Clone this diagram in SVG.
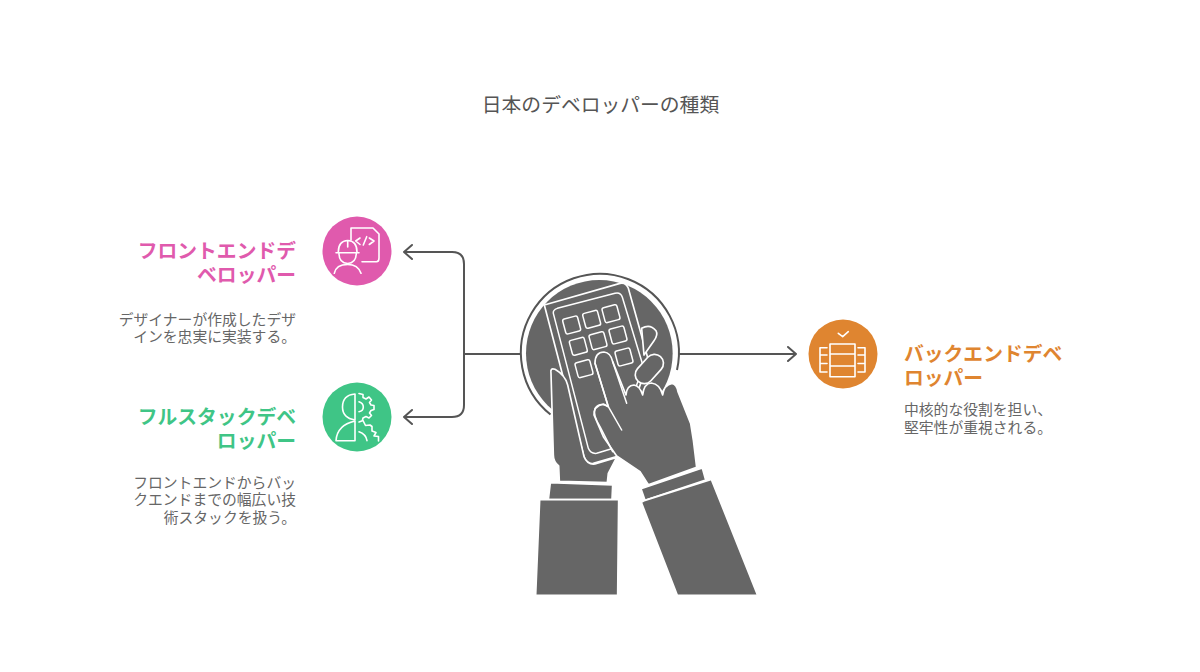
<svg xmlns="http://www.w3.org/2000/svg" width="1200" height="672" viewBox="0 0 1200 672">
<style>
text{font-family:"Noto Sans CJK JP","Noto Sans",sans-serif}
.title{font-size:19.800px;fill:#555;text-anchor:middle}
.h{font-size:19.800px;font-weight:700}
.d{font-size:14.800px;fill:#666}
.r{text-anchor:end}
.conn{fill:none;stroke:#555;stroke-width:2;stroke-linecap:round;stroke-linejoin:round}
.ic{fill:none;stroke:#fff;stroke-width:1.600;stroke-linecap:round;stroke-linejoin:round}
.g{fill:#666;stroke:#fff;stroke-width:5;stroke-linejoin:round}
.w{fill:none;stroke:#fff;stroke-width:4.500;stroke-linejoin:round;stroke-linecap:round}
</style>
<rect width="1200" height="672" fill="#fff"/>
<text class="title" x="600.500" y="112">日本のデベロッパーの種類</text>
<g id="connectors">
<path class="conn" d="M464 354H520"/>
<path class="conn" d="M679 354H796M788 347L796 354L788 361"/>
<path class="conn" d="M404 252H452Q464 252 464 264V405Q464 417 452 417H404M412 245L404 252L412 259M412 410L404 417L412 424"/>
</g>
<g id="center">
<path d="M550.500 414.500A79 79 0 1 1 677 370" fill="none" stroke="#555" stroke-width="2"/>
<g transform="translate(500 260) scale(.33333)">
<circle cx="298" cy="280" r="220" fill="#666"/>
<path d="M133 135L360 70Q378 66 385 85L445 300L350 590L280 610Q260 615 252 590Z" class="g"/>
<path class="w" d="M160 160Q158 150 172 145L345 100Q362 96 367 112L430 320L340 565L290 580Q272 582 265 565Z"/>
<g class="w">
<rect x="192" y="172" width="46" height="46" rx="6" transform="rotate(-15 215 195)"/>
<rect x="252" y="155" width="46" height="46" rx="6" transform="rotate(-15 275 178)"/>
<rect x="310" y="138" width="46" height="46" rx="6" transform="rotate(-15 333 161)"/>
<rect x="212" y="236" width="46" height="46" rx="6" transform="rotate(-15 235 259)"/>
<rect x="271" y="219" width="46" height="46" rx="6" transform="rotate(-15 294 242)"/>
<rect x="331" y="202" width="46" height="46" rx="6" transform="rotate(-15 354 225)"/>
<rect x="229" y="303" width="46" height="46" rx="6" transform="rotate(-15 252 326)"/>
<rect x="349" y="268" width="46" height="46" rx="6" transform="rotate(-15 372 291)"/>
</g>
<path class="g" d="M425 205Q450 190 468 212Q475 225 462 242L432 285Z"/>
<path class="g" d="M153 340Q150 322 165 328Q195 345 203 375L252 590Q262 615 285 612L350 592L325 640L322 668L178 664L176 618Q160 605 160 585Z"/>
<path class="g" d="M285 310Q285 276 312 276Q332 278 338 305L378 405Q380 376 402 375Q420 378 428 405Q432 370 454 369Q480 372 488 405Q492 374 516 370Q530 372 534 395L572 490L580 540L590 622L445 674L420 635L350 588L310 530L282 465Q280 440 310 432L325 440Z"/>
<path class="w" d="M285 310L325 440M338 305L380 430M325 440L365 510M325 440Q300 425 285 445Q278 465 300 500L338 575"/>
<rect x="398" y="300" width="100" height="54" rx="27" transform="rotate(-48 448 327)" class="g"/>
<path class="g" d="M151 668L338 675L336 719L145 719Z"/>
<path class="g" d="M119 719L356 719L353 1006L107 1006Z"/>
<path class="g" d="M423 686L607 624L617 660L435 721Z"/>
<path class="g" d="M435 721L634 658L773 1006L532 1006L424 727Z"/>
</g>
</g>
<g id="frontend">
<circle cx="357" cy="251" r="34.500" fill="#e05aad"/>
<path class="ic" d="M362 261.700H376.500Q379 261.700 379 258V234L373 228H351V240"/>
<path class="ic" d="M360 238L355.700 241L360 244.500M366.700 236.700L363.300 245M369.300 238L374 241L369.300 244.500"/>
<path class="ic" d="M338.300 252Q338.300 241 347.700 240.500Q357 241 357 252M336 252.700H359M339 253.500Q339 263 347.700 263.500Q356 263 356.300 253.500M347.700 241V247M334.300 273.300Q336 264.500 347.700 264.500Q358 264.500 361 273.300"/>
<text class="h r" x="296" y="258" fill="#e05aad">フロントエンドデ</text>
<text class="h r" x="296" y="282" fill="#e05aad">ベロッパー</text>
<text class="d r" x="296" y="324.500">デザイナーが作成したデザ</text>
<text class="d r" x="296" y="342">インを忠実に実装する。</text>
</g>
<g id="fullstack">
<circle cx="357" cy="417" r="34.500" fill="#3fc586"/>
<path class="ic" d="M355 394V420Q342.500 418 342.500 407Q342.500 395 355 394ZM355 421V440.700H336Q337 425 355 421Z"/>
<path class="ic" d="M359 393.500L363 394.500L363 397.500L366 399L369 397L371.500 400L369.500 402.500L371 405L374 405.500L374 409.500L371 410.500L369.500 413L371.500 415.500L369 418L366 416.500L363 418L362.500 420M359 401.700Q363.300 403 363.300 407Q363.300 411 359 411.700"/>
<path class="ic" d="M359 422L363 420.500L365.500 425.500L370 425L372 426.500L372 431L376 432.500L374 436L378.500 436.500L378.500 441M359 431.700Q366 434 367 440.700"/>
<text class="h r" x="296" y="424" fill="#3fc586">フルスタックデベ</text>
<text class="h r" x="296" y="448" fill="#3fc586">ロッパー</text>
<text class="d r" x="296" y="487.500">フロントエンドからバッ</text>
<text class="d r" x="296" y="505">クエンドまでの幅広い技</text>
<text class="d r" x="296" y="522.500">術スタックを扱う。</text>
</g>
<g id="backend">
<circle cx="843" cy="354" r="34.500" fill="#df8530"/>
<path class="ic" d="M830 344H855V376.700H830ZM830 354H855M830 366H855"/>
<path class="ic" d="M838.300 333.300L842.700 336.700L848.300 331.700"/>
<path class="ic" d="M827 347.700H820V372H827M820 355H827M820 363.500H827M858 347.700H865V372H858M858 355H865M858 363.500H865"/>
<text class="h" x="904" y="361" fill="#df8530">バックエンドデベ</text>
<text class="h" x="904" y="385" fill="#df8530">ロッパー</text>
<text class="d" x="904" y="414.500">中核的な役割を担い、</text>
<text class="d" x="904" y="432.500">堅牢性が重視される。</text>
</g>
</svg>
